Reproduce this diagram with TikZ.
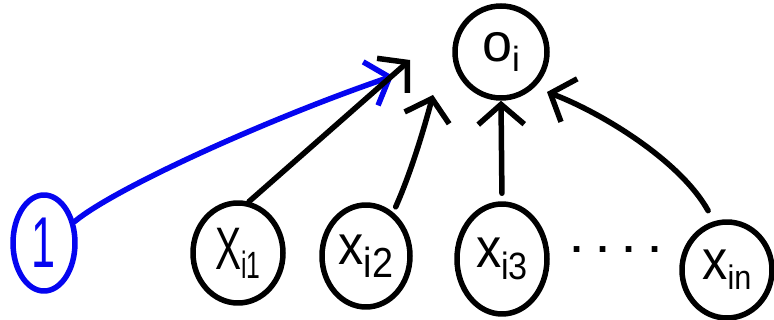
\documentclass[tikz,border=0pt]{standalone}
\usepackage{fontspec}
\usepackage{graphicx}
\setmainfont{Liberation Sans}
\usetikzlibrary{shapes.geometric,arrows.meta}
\definecolor{penblue}{RGB}{5,5,240}
\newcommand\lowsub[3]{\raisebox{-#1pt}{\fontsize{#2}{#2}\selectfont #3}}
\begin{document}
\begin{tikzpicture}[x=1pt,y=-1pt,
  pen/.style={line width=5.5pt, line cap=round, line join=round},
  unit/.style={pen, draw, ellipse, inner sep=0pt},
  link/.style={pen, -{Straight Barb[length=20pt,width=46pt]}},
]
\useasboundingbox (0,0) rectangle (774,320);

\node[unit, draw=penblue, text=penblue, minimum width=62pt, minimum height=96pt,
      font=\fontsize{72}{72}\selectfont] (one) at (44,243) {\scalebox{0.6}[1]{1}};
\node[unit, minimum width=90pt, minimum height=100pt] (x1) at (238,253)
  {\scalebox{0.65}[1]{\fontsize{60}{60}\selectfont X\lowsub{9}{38}{i1}}};
\node[unit, minimum width=88pt, minimum height=102pt] (x2) at (366,256)
  {\scalebox{0.9}[1]{\fontsize{56}{56}\selectfont x\lowsub{13}{42}{i2}}};
\node[unit, minimum width=90pt, minimum height=110pt] (x3) at (502,259)
  {\scalebox{0.9}[1]{\fontsize{56}{56}\selectfont x\lowsub{12}{38}{i3}}};
\node[font=\fontsize{40}{40}\selectfont\bfseries] (dots) at (616,250) {. . . .};
\node[unit, minimum width=90pt, minimum height=96pt] (xn) at (727,270)
  {\scalebox{0.9}[1]{\fontsize{56}{56}\selectfont x\lowsub{10}{34}{in}}};
\node[unit, minimum width=92pt, minimum height=92pt] (o) at (501,52)
  {\fontsize{54}{54}\selectfont o\lowsub{10}{35}{i}};

\coordinate (tb) at (393,76);
\coordinate (t1) at (410,60);
\coordinate (t2) at (433,95);
\coordinate (tn) at (547,92);

\draw[link, draw=penblue] (one.35) .. controls (115,188) and (270,118) .. (tb);
\draw[link] (x1.78) -- (t1);
\draw[link, shorten <=6pt] (x2.58) .. controls (412,170) and (425,125) .. (t2);
\draw[link, shorten <=8pt] (x3.north) -- (o.south);
\draw[link, shorten <=12pt] (xn.105) .. controls (680,160) and (600,112) .. (tn);
\end{tikzpicture}
\end{document}
